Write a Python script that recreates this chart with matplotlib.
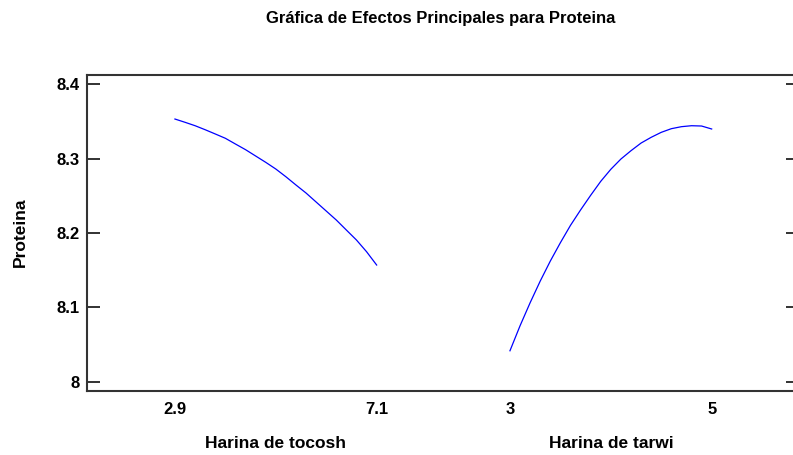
import matplotlib.pyplot as plt
import matplotlib.transforms as mtransforms

plt.rcParams['font.family'] = ['Liberation Sans', 'DejaVu Sans']

# Datos (efectos principales, 21 puntos por factor)
factores = ['Harina de tocosh', 'Harina de tarwi']
etiquetas_x = ['2.9', '7.1', '3', '5']
tocosh_prot = [8.3533, 8.3489, 8.3443, 8.3389, 8.3332, 8.3274, 8.3197, 8.3121, 8.3036,
               8.2951, 8.2861, 8.2757, 8.2646, 8.2538, 8.2417, 8.2296, 8.2175, 8.204,
               8.1906, 8.1749, 8.157]
tarwi_prot = [8.0417, 8.0753, 8.1063, 8.1354, 8.1623, 8.187, 8.2103, 8.231, 8.2507,
              8.2695, 8.2857, 8.2995, 8.3107, 8.321, 8.3287, 8.3354, 8.3403, 8.343,
              8.3443, 8.3439, 8.3399]
yticks = [8.0, 8.1, 8.2, 8.3, 8.4]

# posicion de cada factor en el eje horizontal
inicio = [0.0, 1.661]
n = len(tocosh_prot)
pasos = [i / (n - 1) for i in range(n)]

fig = plt.figure(figsize=(7.93, 4.55), dpi=100)
W, H = 793, 455
ax = fig.add_axes([87 / W, (H - 390.7) / H, (799 - 87) / W, (390.7 - 75) / H])

for x0, serie in zip(inicio, [tocosh_prot, tarwi_prot]):
    ax.plot([x0 + p for p in pasos], serie, color='#0000ff', lw=0.9)

ax.set_xlim(-0.436, 3.094)
ax.set_ylim(7.988, 8.4125)

ax.set_yticks(yticks)
ax.set_yticklabels(['8', '8.1', '8.2', '8.3', '8.4'], fontweight='bold', fontsize=12)
ax.tick_params(axis='y', direction='in', length=9.5, width=1.3, color='#222222',
               right=True, pad=5)

xt = [inicio[0], inicio[0] + 1, inicio[1], inicio[1] + 1]
ax.set_xticks(xt)
ax.set_xticklabels(etiquetas_x, fontweight='bold', fontsize=12)
ax.tick_params(axis='x', length=0, pad=8)

for s in ['left', 'top', 'bottom']:
    ax.spines[s].set_linewidth(1.5)
    ax.spines[s].set_color('#333333')
ax.spines['right'].set_visible(False)

trans = mtransforms.blended_transform_factory(ax.transData, ax.transAxes)
for x0, nombre in zip(inicio, factores):
    ax.text(x0 + 0.5, -0.166, nombre, transform=trans, ha='center', va='center',
            fontweight='bold', fontsize=12.5)

fig.text(20 / W, 1 - 232 / H, 'Proteina', rotation=90, ha='center', va='center',
         fontweight='bold', fontsize=12.5)
fig.text(441 / W, 1 - 18 / H, 'Gráfica de Efectos Principales para Proteina',
         ha='center', va='center', fontweight='bold', fontsize=12)

fig.savefig('out.png', dpi=100)
